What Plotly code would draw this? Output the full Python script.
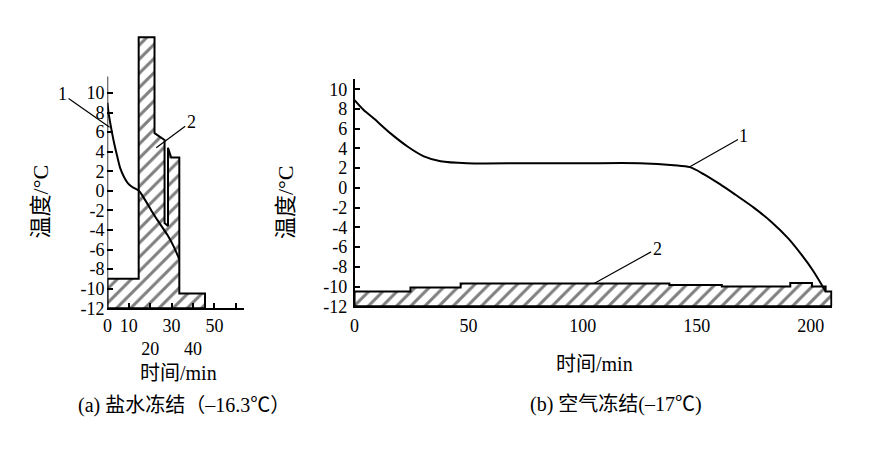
import plotly.graph_objects as go

W, H = 881, 451

# (a) brine freezing: product temperature (curve 1) and brine temperature outline (2)
a_prod_t = [0, 0.5, 1.5, 3, 4.7, 6, 7.8, 9.5, 11.6, 14.7, 17.5, 20.5, 24, 28, 31, 33.6]
a_prod_T = [9.0, 8.0, 6.7, 5.0, 3.4, 2.3, 1.4, 0.8, 0.4, 0.0, -0.9, -2.0, -3.2, -4.5, -5.7, -7.0]
a_brine_t = [0, 14.6, 14.6, 22.0, 22.0, 26.7, 26.7, 28.3, 28.3, 29.8, 33.6, 33.6,
             45.6, 45.6, 0, 0]
a_brine_T = [-9, -9, 15.7, 15.7, 5.9, 5.2, -3.3, -3.6, 4.4, 3.4, 3.4, -10.5,
             -10.5, -12, -12, -9]

# (b) air freezing
b_prod_t = [0, 4, 8.6, 15.9, 23.2, 30.4, 37.7, 49.3, 75, 100, 125, 140, 147, 153, 160,
            167, 175, 183, 190, 196, 201, 206.5]
b_prod_T = [8.9, 7.9, 7.0, 5.5, 4.2, 3.2, 2.7, 2.5, 2.5, 2.5, 2.5, 2.3, 2.1, 1.4, 0.4,
            -0.7, -2.0, -3.5, -5.1, -6.8, -8.4, -10.5]
b_brine_t = [0, 24.5, 24.5, 46.5, 46.5, 138, 138, 161, 161, 191, 191, 200.5, 200.5,
             206.5, 206.5, 209, 209, 0, 0]
b_brine_T = [-10.5, -10.5, -10.1, -10.1, -9.7, -9.7, -9.85, -9.85, -10.0, -10.0, -9.65,
             -9.65, -10.0, -10.0, -10.5, -10.5, -12, -12, -10.5]

y_ticks = list(range(-12, 11, 2))
y_ticktext = [str(v) for v in y_ticks]
a_xticks = [0, 10, 20, 30, 40, 50, 60]
a_xticktext = ["0", "10", "<br>20", "30", "<br>40", "50", ""]
b_xticks = [0, 50, 100, 150, 200]
b_xticktext = ["0", "50", "100", "150", "200"]

FONT = "Liberation Serif, Noto Sans CJK SC, serif"
HATCH = dict(shape="/", fgcolor="black", bgcolor="white", size=10, solidity=0.3)


def px_x(p):
    return p / W


def px_y(p):
    return 1 - p / H


fig = go.Figure()
fig.add_trace(go.Scatter(x=a_brine_t, y=a_brine_T, mode="lines", fill="toself",
                         fillpattern=HATCH, fillcolor="white",
                         line=dict(color="black", width=2), xaxis="x", yaxis="y"))
fig.add_trace(go.Scatter(x=a_prod_t, y=a_prod_T, mode="lines", line_shape="spline",
                         line=dict(color="black", width=2, smoothing=0.8), xaxis="x", yaxis="y"))
fig.add_trace(go.Scatter(x=b_brine_t, y=b_brine_T, mode="lines", fill="toself",
                         fillpattern=HATCH, fillcolor="white",
                         line=dict(color="black", width=2), xaxis="x2", yaxis="y2"))
fig.add_trace(go.Scatter(x=b_prod_t, y=b_prod_T, mode="lines", line_shape="spline",
                         line=dict(color="black", width=2, smoothing=0.8), xaxis="x2", yaxis="y2"))

tickfont = dict(family=FONT, size=18, color="black")
axis_common = dict(showgrid=False, zeroline=False, tickfont=tickfont, linecolor="black",
                   linewidth=1.5, tickcolor="black", tickwidth=1.5, fixedrange=True)

fig.update_layout(
    width=W, height=H, margin=dict(l=0, r=0, t=0, b=0),
    paper_bgcolor="white", plot_bgcolor="white", showlegend=False,
    font=dict(family=FONT, color="black"),
    xaxis=dict(axis_common, domain=[px_x(95), px_x(232)], range=[0, 63.7],
               anchor="y", showline=True, ticks="inside", ticklen=5, ticklabelstandoff=0,
               tickvals=a_xticks, ticktext=a_xticktext),
    yaxis=dict(axis_common, domain=[px_y(307), px_y(27)], range=[-12, 16],
               anchor="x", showline=False, ticks="inside", ticklen=6, ticklabelstandoff=2,
               tickvals=y_ticks, ticktext=y_ticktext),
    xaxis2=dict(axis_common, domain=[px_x(343.5), px_x(823 + 0.5 * 2.295)], range=[0, 209.5],
                anchor="y2", showline=True, ticks="", ticklabelstandoff=2,
                tickvals=b_xticks, ticktext=b_xticktext),
    yaxis2=dict(axis_common, domain=[px_y(305), px_y(73)], range=[-12, 11],
                anchor="x2", showline=True, ticks="inside", ticklen=6, ticklabelstandoff=2,
                tickvals=y_ticks, ticktext=y_ticktext),
)

# (a) y axis line only reaches a little above 10
fig.add_shape(type="line", xref="x", yref="y", x0=0, x1=0, y0=-12, y1=11.7,
              line=dict(color="black", width=1.5))

lab = dict(family=FONT, size=18, color="black")
arrow = dict(showarrow=True, arrowhead=0, arrowwidth=1.2, arrowcolor="black", font=lab)
fig.add_annotation(x=1.0, y=6.5, xref="x", yref="y", text="1", ax=-47, ay=-33, **arrow)
fig.add_annotation(x=22.8, y=4.4, xref="x", yref="y", text="2", ax=35, ay=-26, **arrow)
fig.add_annotation(x=146.6, y=2.1, xref="x2", yref="y2", text="1", ax=55, ay=-31, **arrow)
fig.add_annotation(x=105, y=-9.7, xref="x2", yref="y2", text="2", ax=63, ay=-35, **arrow)

txt = dict(xref="paper", yref="paper", showarrow=False, xanchor="center", yanchor="middle")
big = dict(family=FONT, size=22, color="black")
mid = dict(family=FONT, size=20, color="black")
fig.add_annotation(x=px_x(28), y=px_y(198), text="温度/°C", textangle=-90, font=big, **txt)
fig.add_annotation(x=px_x(274), y=px_y(198), text="温度/°C", textangle=-90, font=big, **txt)
fig.add_annotation(x=px_x(166), y=px_y(373), text="时间/min", font=mid, **txt)
fig.add_annotation(x=px_x(585), y=px_y(364), text="时间/min", font=mid, **txt)
fig.add_annotation(x=px_x(172), y=px_y(407), text="(a) 盐水冻结（–16.3℃）", font=mid, **txt)
fig.add_annotation(x=px_x(606), y=px_y(406), text="(b) 空气冻结(–17℃)", font=mid, **txt)

fig.write_html("out.html")
